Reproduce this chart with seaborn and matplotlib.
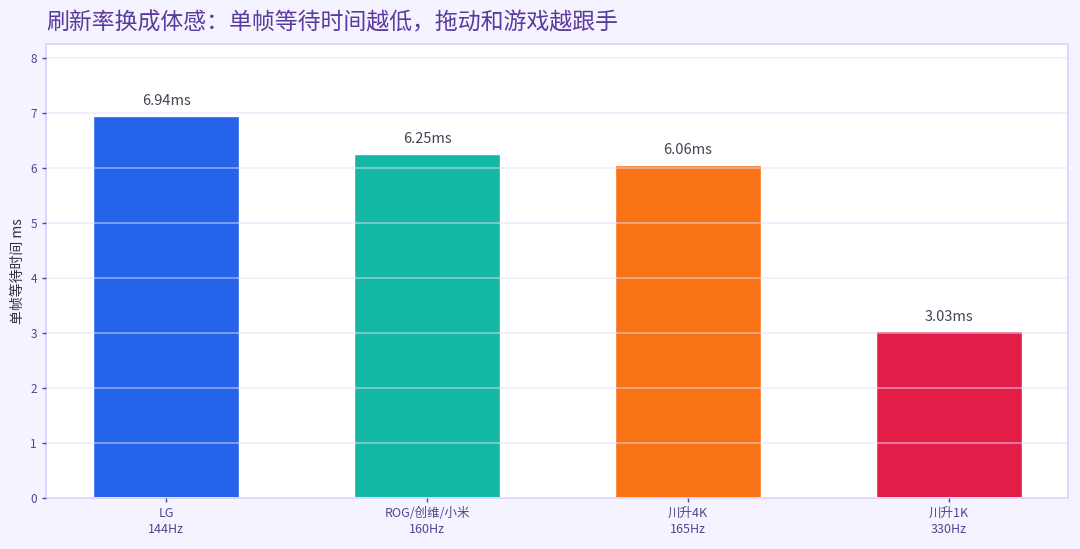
"""plot.py — 刷新率换成体感: bar chart of frame time per monitor."""

import matplotlib.pyplot as plt
import pandas as pd
import seaborn as sns

MODELS = ["LG\n144Hz", "ROG/创维/小米\n160Hz", "川升4K\n165Hz", "川升1K\n330Hz"]
FRAME_MS = [6.94, 6.25, 6.06, 3.03]
BAR_COLORS = ["#2563EB", "#14B8A6", "#F97316", "#E11D48"]
Y_TICKS = [0, 1, 2, 3, 4, 5, 6, 7, 8]

TITLE = "刷新率换成体感：单帧等待时间越低，拖动和游戏越跟手"
Y_LABEL = "单帧等待时间 ms"

BG_COLOR = "#F5F3FF"
EDGE_COLOR = "#DDD6FE"
GRID_COLOR = "#E4DEFF"
TITLE_COLOR = "#5B3A9E"
TICK_COLOR = "#4C4A8F"


def main() -> None:
    sns.set_style("white")
    plt.rcParams["font.family"] = ["Noto Sans CJK SC", "DejaVu Sans"]

    df = pd.DataFrame({"model": MODELS, "ms": FRAME_MS})

    fig = plt.figure(figsize=(10.8, 5.49), dpi=100, facecolor=BG_COLOR)
    ax = fig.add_axes([46 / 1080, 1 - 498 / 549, 1022 / 1080, 454 / 549])
    ax.set_facecolor("white")

    sns.barplot(data=df, x="model", y="ms", hue="model", palette=BAR_COLORS,
                width=0.56, legend=False, saturation=1, ax=ax, zorder=2)

    # grid sits over the bars, same as the original
    ax.set_axisbelow(False)
    ax.set_yticks(Y_TICKS)
    ax.yaxis.grid(True, color=GRID_COLOR, linewidth=1.1, alpha=0.6, zorder=3)
    ax.xaxis.grid(False)
    ax.set_xlim(-0.46, 3.456)
    ax.set_ylim(0, 8.25)

    for bar, v in zip(ax.patches, FRAME_MS):
        ax.text(bar.get_x() + bar.get_width() / 2, v + 0.14, f"{v:.2f}ms",
                ha="center", va="bottom", fontsize=10.5, color="#3F4450")

    ax.set_xlabel("")
    ax.set_ylabel(Y_LABEL, fontsize=10, color="#2F3140", labelpad=4)
    ax.tick_params(axis="both", length=3, width=1, color=TICK_COLOR,
                   labelcolor=TICK_COLOR, labelsize=9, left=True, bottom=True)
    ax.tick_params(axis="y", labelsize=8.5)
    for label in ax.get_xticklabels():
        label.set_linespacing(1.3)

    for side in ax.spines.values():
        side.set_visible(True)
        side.set_color(EDGE_COLOR)
        side.set_linewidth(1.4)

    fig.text(46 / 1080, 1 - 23 / 549, TITLE, fontsize=16.5, color=TITLE_COLOR,
             ha="left", va="center")

    plt.savefig("out.png", dpi=100, facecolor=BG_COLOR)
    plt.close()


if __name__ == "__main__":
    main()
